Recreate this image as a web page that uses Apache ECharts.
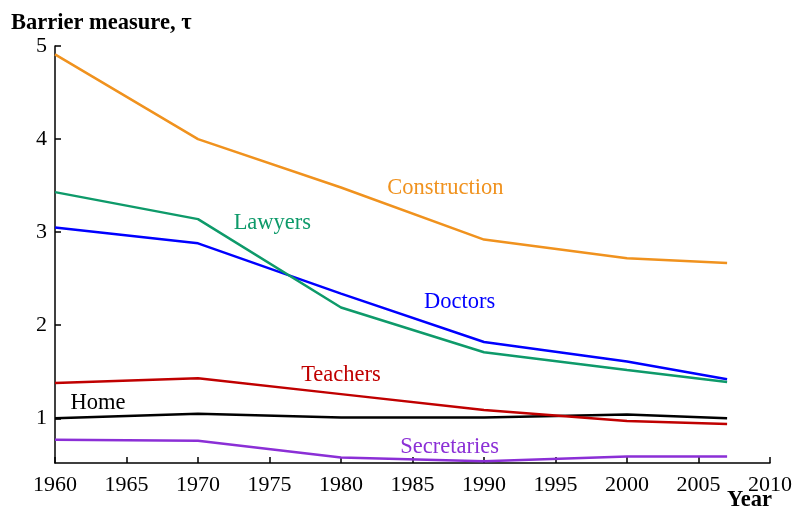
<!DOCTYPE html>
<html><head><meta charset="utf-8">
<script src="https://cdn.jsdelivr.net/npm/echarts@6/dist/echarts.min.js"></script>
<style>html,body{margin:0;padding:0;background:#fff}#c{width:796px;height:510px}</style>
</head><body><div id="c"></div>
<script>
const years = [1960, 1970, 1980, 1990, 2000, 2007];
const construction = [4.91, 4.00, 3.48, 2.92, 2.72, 2.67];
const lawyers = [3.43, 3.14, 2.19, 1.71, 1.52, 1.39];
const doctors = [3.05, 2.88, 2.34, 1.82, 1.61, 1.42];
const teachers = [1.38, 1.43, 1.26, 1.09, 0.97, 0.94];
const home = [1.00, 1.05, 1.01, 1.01, 1.04, 1.00];
const secretaries = [0.77, 0.76, 0.58, 0.54, 0.59, 0.59];
const yTicks = [1, 2, 3, 4, 5];
const seriesNames = ['Construction', 'Lawyers', 'Doctors', 'Teachers', 'Home', 'Secretaries'];
const labelPos = [[1987.3, 3.47], [1975.2, 3.10], [1988.3, 2.25], [1980.0, 1.46], [1963.0, 1.16], [1987.6, 0.69]];

const colors = ['#F0921E', '#0E9A6A', '#0000FF', '#C00000', '#000000', '#8B2FD6'];
const allData = [construction, lawyers, doctors, teachers, home, secretaries];
const FONT = '"Liberation Serif", "DejaVu Serif", serif';

const series = allData.map((vals, i) => ({
  name: seriesNames[i],
  type: 'line',
  data: years.map((y, j) => [y, vals[j]]),
  symbol: 'none',
  lineStyle: { color: colors[i], width: 2.5 },
  z: 10 - i,
  markPoint: {
    symbol: 'circle', symbolSize: 0,
    data: [{ coord: labelPos[i] }],
    label: { show: true, formatter: seriesNames[i], color: colors[i], fontFamily: FONT, fontSize: 22.5, position: 'inside' }
  }
}));

const chart = echarts.init(document.getElementById('c'), null, { renderer: 'canvas' });
chart.setOption({
  animation: false,
  backgroundColor: '#fff',
  grid: { left: 55, right: 26, top: 46, bottom: 47 },
  xAxis: {
    type: 'value', min: 1960, max: 2010, interval: 5,
    axisLine: { show: true, lineStyle: { color: '#000', width: 1.5 } },
    axisTick: { show: true, inside: true, length: 6, lineStyle: { color: '#000', width: 1.5 } },
    axisLabel: { color: '#000', fontFamily: FONT, fontSize: 22, margin: 11, showMinLabel: true, showMaxLabel: true, formatter: v => String(v) },
    splitLine: { show: false }
  },
  yAxis: {
    type: 'value', min: 0.52, max: 5,
    axisLine: { show: true, lineStyle: { color: '#000', width: 1.5 } },
    axisTick: { show: true, inside: true, length: 6, customValues: yTicks, lineStyle: { color: '#000', width: 1.5 } },
    axisLabel: { color: '#000', fontFamily: FONT, fontSize: 22, margin: 8, customValues: yTicks, formatter: v => String(v) },
    splitLine: { show: false }
  },
  graphic: [
    { type: 'text', left: 11, top: 12, style: { text: 'Barrier measure, τ', font: 'bold 22.5px ' + FONT, fill: '#000' } },
    { type: 'text', right: 24, top: 489, style: { text: 'Year', font: 'bold 22.5px ' + FONT, fill: '#000' } }
  ],
  series: series
});
</script></body></html>
